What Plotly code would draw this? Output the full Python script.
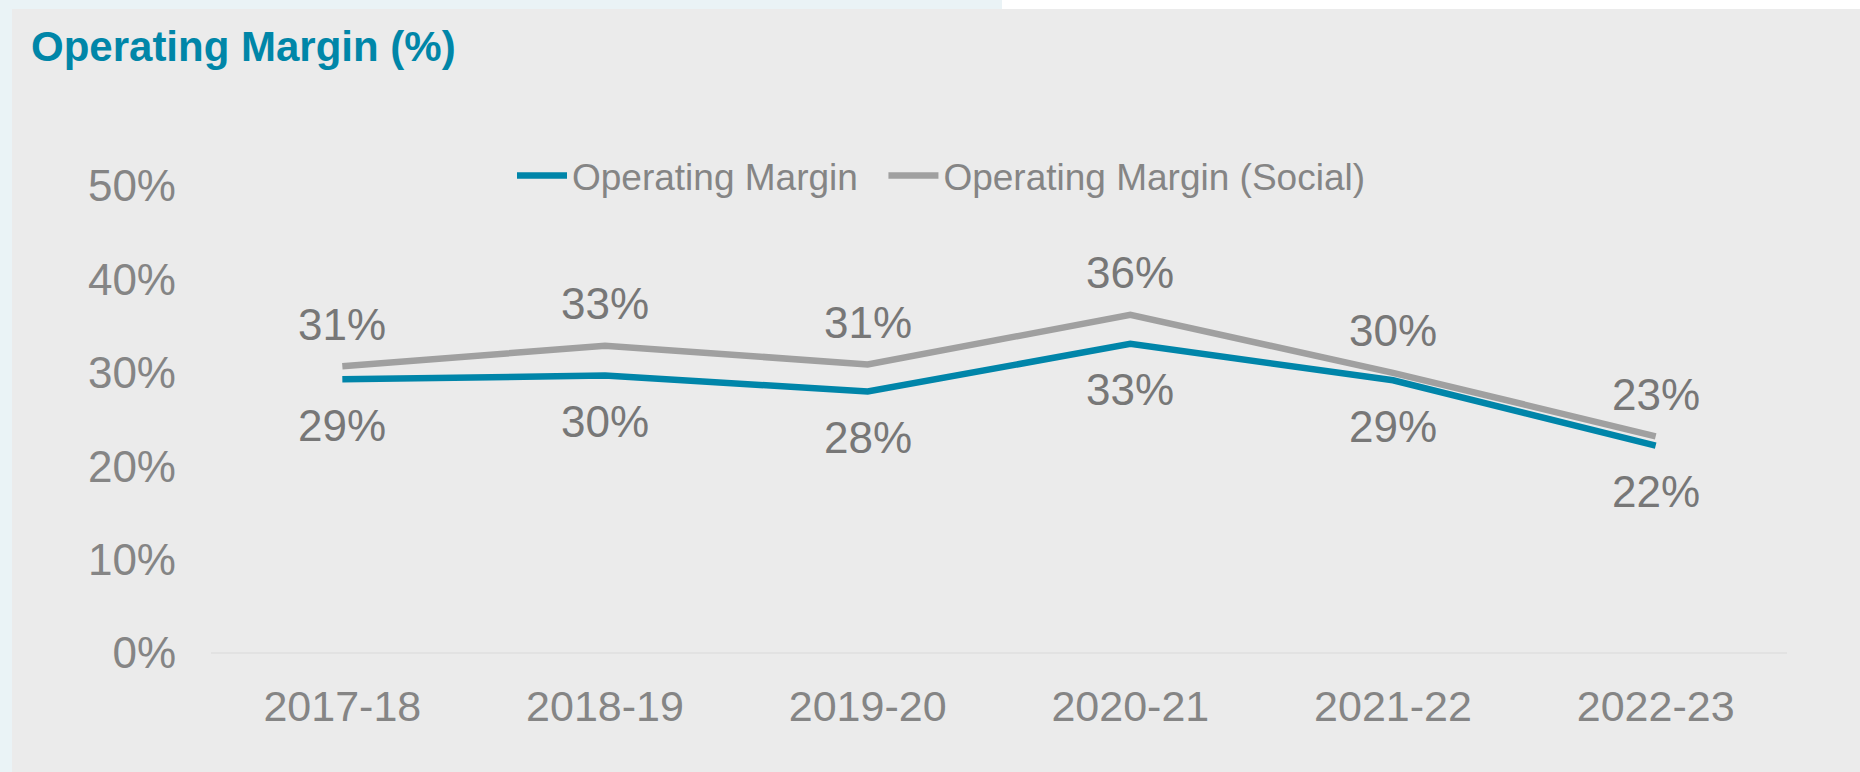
import plotly.graph_objects as go

# chart data
YEARS = ["2017-18", "2018-19", "2019-20", "2020-21", "2021-22", "2022-23"]
OP_MARGIN = [0.293, 0.297, 0.280, 0.331, 0.292, 0.222]
OP_MARGIN_SOCIAL = [0.307, 0.329, 0.309, 0.362, 0.300, 0.232]
Y_TICKS = [0, 0.1, 0.2, 0.3, 0.4, 0.5]
Y_TICK_LABELS = ["0%", "10%", "20%", "30%", "40%", "50%"]

BLUE = "#0085A9"
GREY = "#A0A0A0"
TEXT_GREY = "#858585"
LABEL_GREY = "#777777"
FONT = "Liberation Sans, Arial, sans-serif"

W, H = 1860, 772
L, R, T, B = 211, 73, 186, 119

fig = go.Figure()

fig.add_trace(go.Scatter(x=YEARS, y=OP_MARGIN, mode="lines", name="Operating Margin\u00a0\u00a0",
                         line=dict(color=BLUE, width=6.5)))
fig.add_trace(go.Scatter(x=YEARS, y=OP_MARGIN_SOCIAL, mode="lines", name="Operating Margin (Social)",
                         line=dict(color=GREY, width=6.5)))

# data labels: blue below, grey above
for yr, v in zip(YEARS, OP_MARGIN):
    fig.add_annotation(x=yr, y=v, text=f"{round(v * 100):.0f}%", showarrow=False,
                       yshift=-46, font=dict(family=FONT, size=44, color=LABEL_GREY))
for yr, v in zip(YEARS, OP_MARGIN_SOCIAL):
    fig.add_annotation(x=yr, y=v, text=f"{round(v * 100):.0f}%", showarrow=False,
                       yshift=42, font=dict(family=FONT, size=44, color=LABEL_GREY))

# panel background and frame strips
pw = W - L - R
ph = H - T - B
def px_x(p):
    return (p - L) / pw
def px_y(p):
    return (H - B - p) / ph

fig.add_shape(type="rect", xref="paper", yref="paper", layer="below", line_width=0,
              x0=px_x(12), x1=px_x(W + 5), y0=px_y(H + 5), y1=px_y(9), fillcolor="#EBEBEB")
fig.add_shape(type="rect", xref="paper", yref="paper", layer="below", line_width=0,
              x0=px_x(1002), x1=px_x(W + 5), y0=px_y(9), y1=px_y(-5), fillcolor="#FFFFFF")

fig.update_layout(
    width=W, height=H,
    margin=dict(l=L, r=R, t=T, b=B),
    paper_bgcolor="#EAF3F6",
    plot_bgcolor="rgba(0,0,0,0)",
    font=dict(family=FONT, color=TEXT_GREY),
    title=dict(text="<b>Operating Margin (%)</b>", xref="container", yref="container",
               x=31 / W, xanchor="left", y=1 - 46 / H, yanchor="middle",
               font=dict(family=FONT, size=42, color="#0086A8")),
    showlegend=True,
    legend=dict(orientation="h", x=px_x(941), xanchor="center", y=px_y(176), yanchor="middle",
                font=dict(family=FONT, size=37, color=TEXT_GREY),
                bgcolor="rgba(0,0,0,0)", itemwidth=50, tracegroupgap=0),
    xaxis=dict(type="category", range=[-0.5, 5.5], showgrid=False, zeroline=False,
               showline=False, ticks="", tickfont=dict(size=43, color=TEXT_GREY), ticklabelstandoff=24),
    yaxis=dict(range=[0, 0.5], tickvals=Y_TICKS, ticktext=Y_TICK_LABELS, showgrid=False,
               zeroline=True, zerolinecolor="#E2E2E2", zerolinewidth=2, showline=False,
               ticks="", tickfont=dict(size=44, color=TEXT_GREY), ticklabelstandoff=34),
)

fig.write_html("out.html", config={"displayModeBar": False},
               post_script="document.body.style.margin='0';")
